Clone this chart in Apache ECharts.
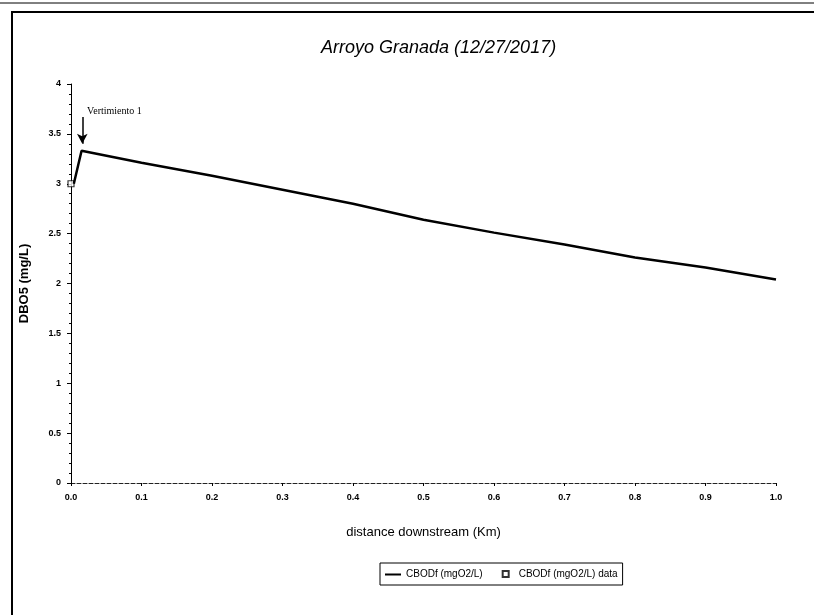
<!DOCTYPE html>
<html>
<head>
<meta charset="utf-8">
<script src="https://cdn.jsdelivr.net/npm/echarts@6/dist/echarts.min.js"></script>
<style>
html,body{margin:0;padding:0;background:#fff;}
#chart{width:814px;height:615px;}
</style>
</head>
<body>
<div id="chart"></div>
<script>
// Data
const titleText = 'Arroyo Granada (12/27/2017)';
const distanceKm = [0.004, 0.015, 0.1, 0.2, 0.3, 0.4, 0.5, 0.6, 0.7, 0.8, 0.9, 1.0];
const cbodfModel = [3.0, 3.33, 3.21, 3.08, 2.94, 2.80, 2.64, 2.51, 2.39, 2.26, 2.16, 2.04];
const dataDistanceKm = [0];
const cbodfData = [3.0];
const annotationText = 'Vertimiento 1';
const annotationX = 0.016;
const arrowFromY = 3.67;
const arrowToY = 3.40;
const seriesNames = ['CBODf (mgO2/L)', 'CBODf (mgO2/L) data'];

const modelPoints = distanceKm.map((d, i) => [d, cbodfModel[i]]);
const dataPoints = dataDistanceKm.map((d, i) => [d, cbodfData[i]]);

const chart = echarts.init(document.getElementById('chart'));
const labelFont = {fontFamily: 'Liberation Sans', fontSize: 9, fontWeight: 'bold', color: '#000'};

chart.setOption({
  animation: false,
  backgroundColor: '#fff',
  title: {
    text: titleText,
    left: 316,
    top: 34,
    textStyle: {fontFamily: 'Liberation Sans', fontStyle: 'italic', fontWeight: 'normal', fontSize: 18, color: '#000'}
  },
  graphic: [
    {type: 'rect', shape: {x: 12, y: 12, width: 806, height: 610}, style: {fill: 'none', stroke: '#000', lineWidth: 2}, silent: true},
    {type: 'line', shape: {x1: 0, y1: 3, x2: 814, y2: 3}, style: {stroke: '#000', lineWidth: 1}, silent: true}
  ],
  legend: {
    left: 380,
    top: 563,
    itemGap: 14,
    padding: [6, 5],
    borderColor: '#000',
    borderWidth: 1,
    itemWidth: 16,
    itemHeight: 8,
    textStyle: {fontFamily: 'Liberation Sans', fontSize: 10, color: '#000'},
    data: [
      {name: seriesNames[0], icon: 'path://M0,3.5 L16,3.5 L16,5.5 L0,5.5 Z M0,0 L0,0 M16,8 L16,8'},
      {name: seriesNames[1], icon: 'path://M0,0 L0,0 M16,8 L16,8 M5,1 L11,1 L11,7 L5,7 Z'}
    ]
  },
  grid: {left: 71, right: 38, top: 84, bottom: 132},
  xAxis: {
    type: 'value',
    min: 0,
    max: 1,
    interval: 0.1,
    name: 'distance downstream (Km)',
    nameLocation: 'middle',
    nameGap: 43,
    nameTextStyle: {fontFamily: 'Liberation Sans', fontSize: 13, color: '#000'},
    axisLine: {show: true, onZero: false, lineStyle: {color: '#222', width: 1, type: 'dashed'}},
    axisTick: {show: true, length: 3, lineStyle: {color: '#000'}},
    axisLabel: Object.assign({margin: 10, formatter: v => v.toFixed(1)}, labelFont),
    splitLine: {show: false}
  },
  yAxis: {
    type: 'value',
    min: 0,
    max: 4,
    interval: 0.5,
    name: 'DBO5 (mg/L)',
    nameLocation: 'middle',
    nameGap: 40,
    nameTextStyle: {fontFamily: 'Liberation Sans', fontSize: 13, fontWeight: 'bold', color: '#000'},
    axisLine: {show: true, lineStyle: {color: '#000', width: 1}},
    axisTick: {show: true, length: 4, inside: false, lineStyle: {color: '#000'}},
    minorTick: {show: true, splitNumber: 5, length: 2, lineStyle: {color: '#000'}},
    axisLabel: Object.assign({margin: 10}, labelFont),
    splitLine: {show: false}
  },
  series: [
    {
      name: seriesNames[0],
      type: 'line',
      data: modelPoints,
      showSymbol: false,
      symbol: 'none',
      lineStyle: {color: '#000', width: 2.5},
      itemStyle: {color: '#000'},
      markLine: {
        silent: true,
        symbol: ['none', 'arrow'],
        symbolSize: [8, 10],
        lineStyle: {color: '#000', width: 1.5, type: 'solid'},
        label: {show: false},
        data: [[{coord: [annotationX, arrowFromY]}, {coord: [annotationX, arrowToY]}]]
      },
      markPoint: {
        silent: true,
        symbol: 'circle',
        symbolSize: 0,
        label: {
          show: true,
          position: 'right',
          distance: 2,
          formatter: annotationText,
          fontFamily: 'Liberation Serif',
          fontSize: 10,
          color: '#000'
        },
        data: [{coord: [annotationX + 0.004, 3.73]}]
      }
    },
    {
      name: seriesNames[1],
      type: 'scatter',
      data: dataPoints,
      symbol: 'rect',
      symbolSize: 6,
      itemStyle: {color: '#fff', borderColor: '#000', borderWidth: 1.2}
    }
  ]
});
</script>
</body>
</html>
